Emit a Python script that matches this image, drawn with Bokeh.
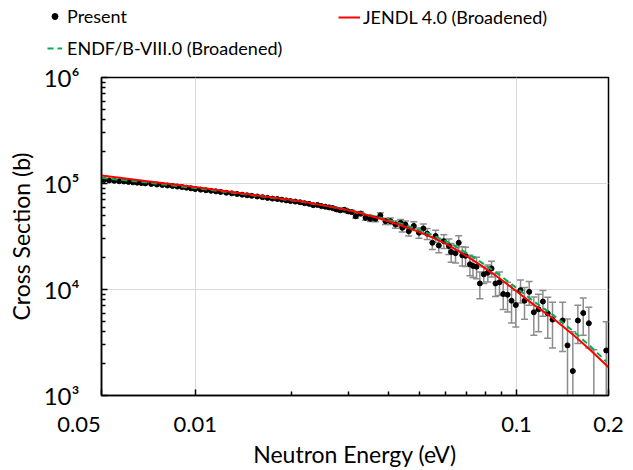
import numpy as np
from bokeh.plotting import figure
from bokeh.layouts import column, row
from bokeh.models import ColumnDataSource, FixedTicker, Legend, LegendItem, Range1d, Plot
from bokeh.embed import file_html
from bokeh.resources import INLINE

# ---------------- data ----------------
energy = [0.0052, 0.0054, 0.0056, 0.0058, 0.0060, 0.0062, 0.0064, 0.0066, 0.0068, 0.0070,
          0.0073, 0.0076, 0.0079, 0.0082, 0.0085, 0.0088, 0.0091, 0.0094, 0.0097, 0.0100,
          0.0104, 0.0108, 0.0112, 0.0116, 0.0120, 0.0125, 0.0130, 0.0135, 0.0140, 0.0145,
          0.0150, 0.0156, 0.0162, 0.0168, 0.0174, 0.0180, 0.0186, 0.0192, 0.0198, 0.0205,
          0.0212, 0.0219, 0.0226, 0.0233, 0.0240, 0.0247, 0.0254, 0.0261, 0.0268, 0.0275,
          0.0283, 0.0291, 0.0299, 0.0307,
          0.0316, 0.0327, 0.0339, 0.0351, 0.0364, 0.0377, 0.0391, 0.0405, 0.0420, 0.0436,
          0.0441, 0.0451, 0.0462, 0.0479, 0.0497, 0.0513, 0.0527, 0.0547, 0.0560, 0.0573,
          0.0594, 0.0616, 0.0626, 0.0646, 0.0661, 0.0678, 0.0694, 0.0716, 0.0732, 0.0751,
          0.0769, 0.0791, 0.0814, 0.0836, 0.0860, 0.0885, 0.0909, 0.0938, 0.0965, 0.0995,
          0.1029, 0.1059, 0.1095, 0.1132, 0.1171, 0.1208, 0.1251, 0.1294, 0.1391, 0.1441,
          0.1497, 0.1552, 0.1613, 0.1679, 0.1740, 0.1902]

cross_section = [108000, 107000, 106000, 105000, 104500, 103500, 102500, 101800, 101000, 100200,
                 99000, 97800, 96800, 95700, 94800, 93600, 92500, 91200, 90000, 88600,
                 87500, 86300, 85400, 84300, 83200, 81800, 80700, 79600, 78400, 77400,
                 76500, 75400, 74300, 73100, 72000, 71400, 70400, 69300, 68200, 67500,
                 66500, 65200, 64300, 62500, 62800, 61200, 60400, 59500, 58600, 57000,
                 55800, 56500, 54600, 53800,
                 49100, 52000, 47400, 46400, 46400, 50000, 44100, 44100, 41000, 42500,
                 38200, 41000, 35500, 39800, 34300, 37600, 33600, 27600, 32000, 26000,
                 28600, 25700, 22600, 22000, 27600, 21000, 20800, 17300, 16700, 16400,
                 11400, 13900, 14400, 15800, 11400, 11700, 9060, 8930, 7840, 7140,
                 9860, 7840, 9500, 6100, 6500, 7700, 5960, 5200, 5100, 2970,
                 1700, 5100, 6000, 4800, 700, 2660]

uncertainty = [1500, 1500, 1500, 1500, 1500, 1400, 1400, 1400, 1400, 1400,
               1400, 1400, 1300, 1300, 1300, 1300, 1300, 1300, 1300, 1300,
               1300, 1300, 1300, 1200, 1200, 1200, 1200, 1200, 1200, 1200,
               1200, 1200, 1200, 1200, 1200, 1200, 1200, 1200, 1200, 1300,
               1300, 1300, 1400, 1400, 1500, 1500, 1500, 1600, 1600, 1700,
               1800, 1900, 2000, 2100,
               2200, 2400, 2500, 2600, 2800, 3000, 3000, 3100, 3200, 3300,
               3300, 3400, 3500, 3800, 3800, 4000, 4000, 3800, 4200, 3800,
               4200, 4300, 4500, 4200, 4500, 4300, 4300, 3800, 3700, 3800,
               3200, 2500, 2600, 2700, 2800, 2900, 2600, 2800, 3000, 2700,
               2400, 2600, 2400, 2400, 2500, 2100, 2500, 2400, 2500, 2300,
               2300, 2000, 2300, 2000, 2000, 2300]

jendl_energy = [0.00511, 0.0070, 0.0100, 0.0150, 0.0213, 0.0263, 0.0320, 0.0377, 0.0430, 0.0479,
                0.0540, 0.0608, 0.0680, 0.0773, 0.0880, 0.0993, 0.1130, 0.1304, 0.1500, 0.1700, 0.1933]
jendl_xs = [119000, 105500, 92500, 78500, 68000, 60500, 53500, 46500, 41000, 36500,
            31500, 26700, 21800, 17000, 12900, 9800, 7200, 5300, 3750, 2670, 1850]

endf_energy = [0.00511, 0.0070, 0.0100, 0.0150, 0.0213, 0.0263, 0.0320, 0.0377, 0.0430, 0.0479,
               0.0540, 0.0608, 0.0680, 0.0773, 0.0880, 0.0993, 0.1130, 0.1304, 0.1500, 0.1700, 0.1900]
endf_xs = [113000, 102500, 90500, 77500, 67500, 60500, 54000, 47500, 42500, 38000,
           33200, 28300, 23300, 18200, 13900, 10500, 7750, 5700, 4050, 2900, 2100]

x_start, x_end = 0.00511, 0.1933
y_start, y_end = 1e3, 1e6
x_tick_values = [x_start, 0.01, 0.1, x_end]
x_tick_labels = ["0.05" + "\u00a0" * 8, "0.01", "0.1", "0.2"]
x_minor_values = [0.02, 0.03, 0.04, 0.05, 0.06, 0.07, 0.08, 0.09]
y_tick_values = [1e3, 1e4, 1e5, 1e6]
y_tick_labels = ["10³", "10⁴", "10⁵", "10⁶"]

# ---------------- derived ----------------
e = np.array(energy)
y = np.array(cross_section, dtype=float)
dy = np.array(uncertainty, dtype=float)
src = ColumnDataSource(dict(energy=e, xs=y, upper=y + dy, lower=np.maximum(y - dy, 1.0)))

FONT = "Lato"
GRAY = "#8c8c8c"
RED = "#FF0000"
GREEN = "#00B050"

# ---------------- legend strip (top) ----------------
lf = figure(width=633, height=62, x_range=Range1d(0, 1), y_range=Range1d(0, 1),
            x_axis_location=None, y_axis_location=None, output_backend="svg",
            toolbar_location=None, min_border=0)
lf.outline_line_color = None
lf.grid.visible = False
lf.background_fill_color = "white"
lf.border_fill_color = "white"

# legend-only symbols, placed outside the strip's visible range
pres_bar = lf.scatter(x=[5], y=[5], marker="dash", angle=np.pi / 2, size=11,
                      line_color="black", line_width=1.5)
pres_pt = lf.scatter(x=[5], y=[5], marker="circle", size=4, fill_color="black", line_color="black")
endf_proxy = lf.line(x=[5, 6], y=[5, 6], line_color=GREEN, line_width=2, line_dash="6 4")
jendl_proxy = lf.line(x=[5, 6], y=[5, 6], line_color=RED, line_width=2)

legstyle = dict(border_line_color=None, background_fill_alpha=0, padding=0, margin=0,
                label_text_font=FONT, label_text_font_size="18px", label_text_color="black",
                glyph_height=20, label_height=20)
leg1 = Legend(items=[LegendItem(label="Present", renderers=[pres_bar, pres_pt]),
                     LegendItem(label="ENDF/B-VIII.0 (Broadened)", renderers=[endf_proxy])],
              location=(47, 3), spacing=10, glyph_width=15, label_standoff=5, **legstyle)
leg2 = Legend(items=[LegendItem(label="JENDL 4.0 (Broadened)", renderers=[jendl_proxy])],
              location=(338, 34), glyph_width=22, label_standoff=3, **legstyle)
lf.add_layout(leg1)
lf.add_layout(leg2)

# ---------------- main plot ----------------
p = figure(width=633, height=408, x_axis_type="log", y_axis_type="log",
           x_range=Range1d(x_start, x_end), y_range=Range1d(y_start, y_end),
           output_backend="svg", toolbar_location=None,
           min_border_left=101, min_border_right=25, min_border_top=15, min_border_bottom=73)
p.background_fill_color = "white"
p.border_fill_color = "white"
p.outline_line_color = "black"
p.outline_line_width = 1.5

p.xaxis.ticker = FixedTicker(ticks=x_tick_values, minor_ticks=x_minor_values)
p.xaxis.major_label_overrides = {v: s for v, s in zip(x_tick_values, x_tick_labels)}
minor_y = [m * 10 ** k for k in (3, 4, 5) for m in range(2, 10)]
p.yaxis.ticker = FixedTicker(ticks=y_tick_values, minor_ticks=minor_y)
p.yaxis.major_label_overrides = {v: s for v, s in zip(y_tick_values, y_tick_labels)}

for ax in (p.xaxis[0], p.yaxis[0]):
    ax.axis_line_color = "black"
    ax.axis_line_width = 1.5
    ax.major_tick_in = 6
    ax.major_tick_out = 0
    ax.minor_tick_in = 4
    ax.minor_tick_out = 0
    ax.major_tick_line_color = "black"
    ax.minor_tick_line_color = "black"
    ax.major_tick_line_width = 1.5
    ax.minor_tick_line_width = 1.5
    ax.major_label_text_font = FONT
    ax.major_label_text_color = "black"
    ax.axis_label_text_font = FONT
    ax.axis_label_text_font_style = "normal"
    ax.axis_label_text_color = "black"

p.xaxis.major_label_text_font_size = "22px"
p.yaxis.major_label_text_font_size = "24px"
p.xaxis.axis_label_text_font_size = "23px"
p.yaxis.axis_label_text_font_size = "23px"
p.xaxis.axis_label = "Neutron Energy (eV)"
p.yaxis.axis_label = "Cross Section (b)"
p.xaxis.major_label_standoff = 14
p.xaxis.axis_label_standoff = 0
p.yaxis.major_label_standoff = 22
p.yaxis.axis_label_standoff = 6

p.grid.grid_line_color = "#d9d9d9"
p.grid.grid_line_width = 1

p.segment(x0="energy", y0="lower", x1="energy", y1="upper", source=src,
          line_color=GRAY, line_width=1.5)
p.scatter(x="energy", y="upper", source=src, marker="dash", size=7,
          line_color=GRAY, line_width=1.5)
p.scatter(x="energy", y="lower", source=src, marker="dash", size=7,
          line_color=GRAY, line_width=1.5)
p.scatter(x="energy", y="xs", source=src, marker="circle", size=5,
          fill_color="black", line_color="black")
p.line(endf_energy, endf_xs, line_color=GREEN, line_width=2, line_dash="6 4")
p.line(jendl_energy, jendl_xs, line_color=RED, line_width=2)

if "frame_align" in Plot.properties():
    lf.frame_align = False
    p.frame_align = False
    top = lf
else:
    top = row(lf)

layout = column(top, p, spacing=0)
open("out.html", "w").write(file_html(layout, INLINE))
